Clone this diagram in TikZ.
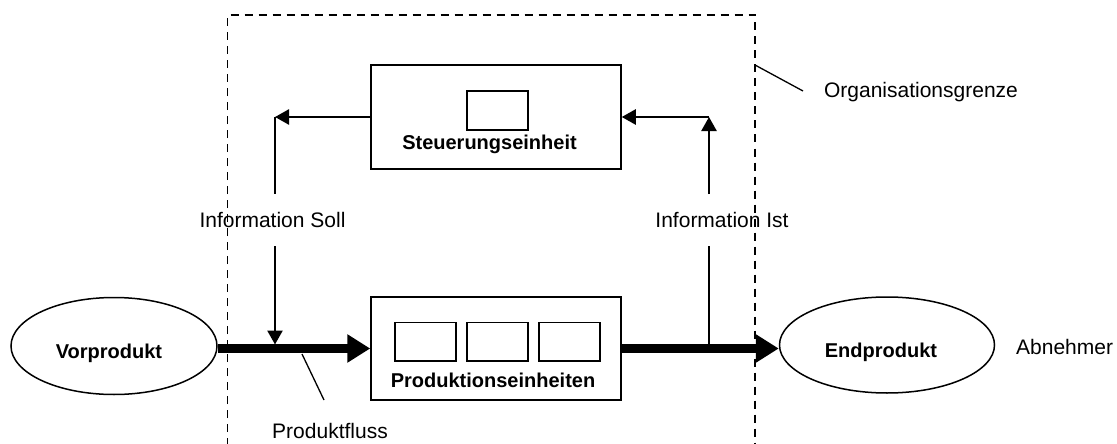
\documentclass[tikz,border=0pt]{standalone}
\usepackage{fontspec}
\setmainfont{Liberation Sans}
\usetikzlibrary{shapes.geometric,arrows.meta}
\begin{document}
\begin{tikzpicture}[x=1pt,y=-1pt,
  lbl/.style={font=\fontsize{21}{25}\selectfont, inner sep=0pt, anchor=base},
  blbl/.style={font=\fontsize{20}{24}\selectfont\bfseries, inner sep=0pt, anchor=base},
  box/.style={draw, line width=1.5pt, inner sep=0pt},
  ell/.style={ellipse, draw, line width=1.5pt, inner sep=0pt},
  thinline/.style={line width=1.3pt},
  info/.style={line width=2.5pt, -{Triangle[length=14pt,width=15pt]}},
  infoline/.style={line width=2.5pt},
  flow/.style={line width=9pt, -{Triangle[length=23pt,width=27pt]}},
  border/.style={line width=1.8pt, dash pattern=on 8pt off 6pt}
]
\useasboundingbox (0,0) rectangle (1117,444);

% organisation boundary
\coordinate (bl) at (227.5,446);
\coordinate (tl) at (227.5,15);
\coordinate (tr) at (755,15);
\coordinate (br) at (755,446);
\draw[border] (bl) -- (tl) -- (tr) -- (br);

% Steuerungseinheit
\node[box, minimum width=250pt, minimum height=104pt] (steu) at (496,117) {};
\node[box, minimum width=61pt, minimum height=39pt] (sbox) at (497.5,110.5) {};
\node[blbl] (steutxt) at (489.5,149) {Steuerungseinheit};

% Produktionseinheiten
\node[box, minimum width=250pt, minimum height=103pt] (prod) at (496,348.5) {};
\node[box, minimum width=61pt, minimum height=38.5pt] (p1) at (425.5,341.75) {};
\node[box, minimum width=61pt, minimum height=38.5pt] (p2) at (497.5,341.75) {};
\node[box, minimum width=61pt, minimum height=38.5pt] (p3) at (569.5,341.75) {};
\node[blbl] (prodtxt) at (493,387.5) {Produktionseinheiten};

% ellipses
\node[ell, minimum width=206pt, minimum height=97pt] (vor) at (114,346) {};
\node[blbl] (vortxt) at (109,358) {Vorprodukt};
\node[ell, minimum width=215pt, minimum height=96pt] (end) at (887,345) {};
\node[blbl] (endtxt) at (881,357) {Endprodukt};

% product flow
\draw[flow] (vor.east |- prod.west) -- (prod.west);
\draw[flow] (prod.east) -- (end.west |- prod.east);

% Information Soll
\coordinate (sollc) at (275,117);
\coordinate (sollA) at (275,194);
\coordinate (sollB) at (275,246);
\coordinate (sollD) at (275,344.5);
\draw[info] (steu.west) -- (sollc);
\draw[infoline] (sollc) -- (sollA);
\draw[info] (sollB) -- (sollD);
\node[lbl] (solltxt) at (272.5,227) {Information Soll};

% Information Ist
\coordinate (istc) at (709,117);
\coordinate (istA) at (709,194);
\coordinate (istB) at (709,246);
\coordinate (istD) at (709,349);
\draw[infoline] (istD) -- (istB);
\draw[info] (istA) -- (istc);
\draw[info] (istc) -- (steu.east);
\node[lbl] (isttxt) at (722,227) {Information Ist};

% labels with leaders
\coordinate (pf1) at (302,354);
\coordinate (pf2) at (324,400);
\draw[thinline] (pf1) -- (pf2);
\node[lbl] (pftxt) at (330,438) {Produktfluss};

\coordinate (og1) at (755,65);
\coordinate (og2) at (803,91);
\draw[thinline] (og1) -- (og2);
\node[lbl] (ogtxt) at (921,97) {Organisationsgrenze};

\node[lbl, anchor=base west] (abn) at (1016,354.6) {Abnehmer};
\end{tikzpicture}
\end{document}
